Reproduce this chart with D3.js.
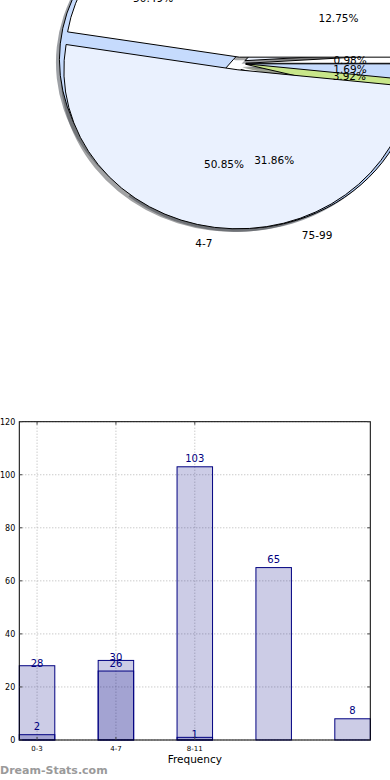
<!DOCTYPE html>
<html>
<head>
<meta charset="utf-8">
<script src="https://cdnjs.cloudflare.com/ajax/libs/d3/7.8.5/d3.min.js"></script>
<style>
  html, body { margin: 0; padding: 0; background: #fff; }
  svg { display: block; font-family: "DejaVu Sans", sans-serif; }
</style>
</head>
<body>
<div id="chart"></div>
<script>
// values
var pieLabels = ["0-3", "4-7", "8-11", "75-99"];
var tickLabels = ["0-3", "4-7", "8-11"];
var seriesA = [28, 30, 1];
var seriesB = [2, 26, 103, 65, 8];
var yTicks = [0, 20, 40, 60, 80, 100, 120];
var colorsA = ["#ffffff", "#eaf1fe", "#c6dbfd"];
var colorsB = ["#ffffff", "#eaf1fe", "#c6dbfd", "#adc6ef", "#c8e68a"];

var W = 390, H = 780;
var svg = d3.select("#chart").append("svg")
    .attr("width", W)
    .attr("height", H);

// ---------- pie (two pies on top of each other, big and cropped) ----------
var cx = 238.8, cy = 63.5, rx = 174, ry = 159, explode = 0.04;
var R = 100; // arc units, scaled to rx/ry afterwards

var pie = d3.pie().sort(null)
    .startAngle(Math.PI / 2)
    .endAngle(Math.PI / 2 - 2 * Math.PI); // counter-clockwise from 3 o'clock
var arc = d3.arc().innerRadius(0).outerRadius(R);

function wedges(values, colors) {
  var total = d3.sum(values);
  return pie(values).map(function(d, i) {
    var mid = (d.startAngle + d.endAngle) / 2;
    return {
      arc: d,
      color: colors[i],
      pct: (100 * d.value / total).toFixed(2) + "%",
      label: pieLabels[i],
      dx: Math.sin(mid),
      dy: -Math.cos(mid)
    };
  });
}

var pieB = wedges(seriesB, colorsB);
var pieA = wedges(seriesA, colorsA);
var all = pieB.concat(pieA);

function place(sel, sx, sy) {
  sel.attr("transform", function(d) {
    var ox = cx + sx + d.dx * explode * rx;
    var oy = cy + sy + d.dy * explode * ry;
    return "translate(" + ox + "," + oy + ") scale(" + (rx / R) + "," + (ry / R) + ")";
  });
}

var gPie = svg.append("g");

// shadows first (below every wedge)
gPie.selectAll("path.shadow")
  .data(all)
  .enter().append("path")
    .attr("class", "shadow")
    .attr("d", function(d) { return arc(d.arc); })
    .attr("fill", function(d) { var c = d3.rgb(d.color); return d3.rgb(c.r * 0.3, c.g * 0.3, c.b * 0.3); })
    .attr("fill-opacity", 0.5)
    .call(place, -0.02 * rx, 0.02 * ry);

gPie.selectAll("path.wedge")
  .data(all)
  .enter().append("path")
    .attr("class", "wedge")
    .attr("d", function(d) { return arc(d.arc); })
    .attr("fill", function(d) { return d.color; })
    .attr("stroke", "#000")
    .attr("stroke-width", 1)
    .attr("vector-effect", "non-scaling-stroke")
    .call(place, 0, 0);

// percentages
gPie.selectAll("text.pct")
  .data(all)
  .enter().append("text")
    .attr("class", "pct")
    .attr("x", function(d) { return cx + d.dx * (explode + 0.6) * rx; })
    .attr("y", function(d) { return cy + d.dy * (explode + 0.6) * ry; })
    .attr("dy", "0.35em")
    .attr("text-anchor", "middle")
    .style("font-size", "10.5px")
    .text(function(d) { return d.pct; });

// category labels
gPie.selectAll("text.lab")
  .data(all.filter(function(d) { return d.label; }))
  .enter().append("text")
    .attr("class", "lab")
    .attr("x", function(d) { return cx + d.dx * (explode + 1.1) * rx; })
    .attr("y", function(d) { return cy + d.dy * (explode + 1.1) * ry; })
    .attr("dy", "0.35em")
    .attr("text-anchor", function(d) { return d.dx < 0 ? "end" : "start"; })
    .style("font-size", "10.5px")
    .text(function(d) { return d.label; });

// ---------- bar chart ----------
var plotL = 19.3, plotR = 370.3, plotT = 421.7, plotB = 740;
var barW = 0.45;
var x = d3.scaleLinear().domain([-barW / 2, 4 + barW / 2]).range([plotL, plotR]);
var y = d3.scaleLinear().domain([0, 120]).range([plotB, plotT]);

var g = svg.append("g");

// grid
g.selectAll("line.hgrid")
  .data(yTicks)
  .enter().append("line")
    .attr("class", "hgrid")
    .attr("x1", plotL).attr("x2", plotR)
    .attr("y1", function(d) { return y(d); })
    .attr("y2", function(d) { return y(d); })
    .attr("stroke", "#b4b4b4")
    .attr("stroke-dasharray", "1,2");
g.selectAll("line.vgrid")
  .data(tickLabels)
  .enter().append("line")
    .attr("class", "vgrid")
    .attr("x1", function(d, i) { return x(i); })
    .attr("x2", function(d, i) { return x(i); })
    .attr("y1", plotT).attr("y2", plotB)
    .attr("stroke", "#b4b4b4")
    .attr("stroke-dasharray", "1,2");

function bars(values, cls, labelOffset) {
  g.selectAll("rect." + cls)
    .data(values)
    .enter().append("rect")
      .attr("class", cls)
      .attr("x", function(d, i) { return x(i - barW / 2); })
      .attr("width", x(barW) - x(0))
      .attr("y", function(d) { return y(d); })
      .attr("height", function(d) { return y(0) - y(d); })
      .attr("fill", "#000080")
      .attr("fill-opacity", 0.2)
      .attr("stroke", "#000080")
      .attr("stroke-width", 1);
  g.selectAll("text." + cls)
    .data(values)
    .enter().append("text")
      .attr("class", cls)
      .attr("x", function(d, i) { return x(i); })
      .attr("y", function(d) { return y(d) + labelOffset; })
      .attr("text-anchor", "middle")
      .attr("fill", "#000080")
      .style("font-size", "10px")
      .text(function(d) { return d; });
}
bars(seriesA, "barA", 1);
bars(seriesB, "barB", -4.5);

// frame
g.append("rect")
  .attr("x", plotL).attr("y", plotT)
  .attr("width", plotR - plotL).attr("height", plotB - plotT)
  .attr("fill", "none")
  .attr("stroke", "#000");

// ticks (inward, both sides)
yTicks.forEach(function(t) {
  g.append("line").attr("x1", plotL).attr("x2", plotL + 3)
    .attr("y1", y(t)).attr("y2", y(t)).attr("stroke", "#444");
  g.append("line").attr("x1", plotR).attr("x2", plotR - 3)
    .attr("y1", y(t)).attr("y2", y(t)).attr("stroke", "#444");
});
g.selectAll("text.ytick")
  .data(yTicks)
  .enter().append("text")
    .attr("class", "ytick")
    .attr("x", plotL - 4)
    .attr("y", function(d) { return y(d); })
    .attr("dy", "0.35em")
    .attr("text-anchor", "end")
    .style("font-size", "8px")
    .text(function(d) { return d; });

tickLabels.forEach(function(t, i) {
  g.append("line").attr("x1", x(i)).attr("x2", x(i))
    .attr("y1", plotB).attr("y2", plotB - 3).attr("stroke", "#444");
  g.append("line").attr("x1", x(i)).attr("x2", x(i))
    .attr("y1", plotT).attr("y2", plotT + 3).attr("stroke", "#444");
});
g.selectAll("text.xtick")
  .data(tickLabels)
  .enter().append("text")
    .attr("class", "xtick")
    .attr("x", function(d, i) { return x(i); })
    .attr("y", 751)
    .attr("text-anchor", "middle")
    .style("font-size", "7px")
    .text(function(d) { return d; });

g.append("text")
  .attr("x", (plotL + plotR) / 2)
  .attr("y", 763)
  .attr("text-anchor", "middle")
  .style("font-size", "10.5px")
  .text("Frequency");

// watermark
svg.append("text")
  .attr("x", 0)
  .attr("y", 774)
  .attr("fill", "#9a9a9a")
  .style("font-size", "11px")
  .style("font-weight", "bold")
  .text("Dream-Stats.com");
</script>
</body>
</html>
